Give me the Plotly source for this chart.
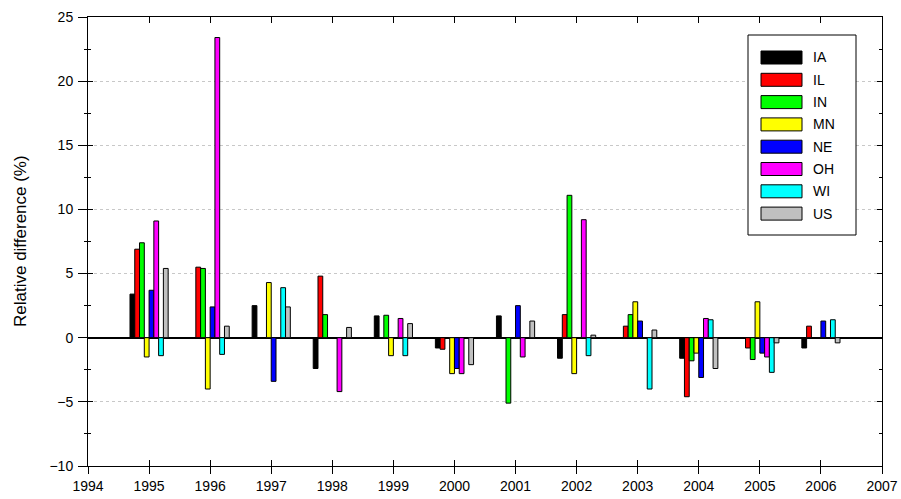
import plotly.graph_objects as go

years = [1995, 1996, 1997, 1998, 1999, 2000, 2001, 2002, 2003, 2004, 2005, 2006]
states = ["IA", "IL", "IN", "MN", "NE", "OH", "WI", "US"]
colors = ["#000000", "#ff0000", "#00ff00", "#ffff00", "#0000ff", "#ff00ff", "#00ffff", "#c0c0c0"]

IA = [3.4, 0.0, 2.5, -2.4, 1.7, -0.8, 1.7, -1.6, 0.0, -1.6, 0.0, -0.8]
IL = [6.9, 5.5, 0.0, 4.8, 0.0, -0.9, 0.0, 1.8, 0.9, -4.6, -0.8, 0.9]
IN = [7.4, 5.4, 0.0, 1.8, 1.75, 0.0, -5.1, 11.1, 1.8, -1.8, -1.7, 0.0]
MN = [-1.5, -4.0, 4.3, 0.0, -1.4, -2.8, 0.0, -2.8, 2.8, -1.2, 2.8, 0.0]
NE = [3.7, 2.4, -3.4, 0.0, 0.0, -2.4, 2.5, 0.0, 1.3, -3.1, -1.2, 1.3]
OH = [9.1, 23.4, 0.0, -4.2, 1.5, -2.8, -1.5, 9.2, 0.0, 1.5, -1.5, 0.0]
WI = [-1.4, -1.3, 3.9, 0.0, -1.4, 0.0, 0.0, -1.4, -4.0, 1.4, -2.7, 1.4]
US = [5.4, 0.9, 2.4, 0.8, 1.1, -2.1, 1.3, 0.2, 0.6, -2.4, -0.4, -0.4]
series = [IA, IL, IN, MN, NE, OH, WI, US]

x_ticks = list(range(1994, 2008))
y_range = [-10, 25]
y_title = "Relative difference (%)"

FONT = "Liberation Sans, Arial, sans-serif"

W, H = 901, 499
ML, MR, MT, MB = 88, 19, 17, 33

fig = go.Figure()
for name, vals, col in zip(states, series, colors):
    fig.add_trace(go.Bar(
        x=years, y=vals, name=name,
        marker=dict(color=col, line=dict(color="#000000", width=1)),
        showlegend=False,
    ))

# invisible helper trace so overlay axes (inner ticks) render
fig.add_trace(go.Scatter(x=[1994], y=[0], xaxis="x2", yaxis="y2", mode="markers",
                         marker=dict(opacity=0), showlegend=False, hoverinfo="skip"))

fig.update_layout(
    width=W, height=H,
    margin=dict(l=ML, r=MR, t=MT, b=MB),
    paper_bgcolor="white", plot_bgcolor="white",
    barmode="group", bargap=0.375, bargroupgap=0.0,
    font=dict(family=FONT, size=14, color="#000000"),
    xaxis=dict(
        range=[1994, 2007], tickmode="array", tickvals=x_ticks,
        ticktext=[str(v) for v in x_ticks],
        ticks="outside", ticklen=7, tickwidth=1, tickcolor="#000000",
        showline=True, linecolor="#000000", linewidth=1, mirror=True,
        showgrid=False, zeroline=False, automargin=False,
        tickfont=dict(family=FONT, size=14, color="#000000"),
    ),
    xaxis2=dict(
        range=[1994, 2007], overlaying="x", tickmode="array", tickvals=x_ticks,
        showticklabels=False, ticks="inside", ticklen=6, tickcolor="#000000",
        showline=False, mirror="ticks", showgrid=False, zeroline=False, automargin=False,
    ),
    yaxis=dict(
        range=y_range, dtick=5, tick0=0,
        ticks="outside", ticklen=9, tickwidth=1, tickcolor="#000000",
        minor=dict(dtick=2.5, ticks="outside", ticklen=3, tickcolor="#000000", showgrid=False),
        showline=True, linecolor="#000000", linewidth=1, mirror=True,
        showgrid=True, gridcolor="#c8c8c8", griddash="dot", gridwidth=1,
        zeroline=True, zerolinecolor="#000000", zerolinewidth=1.5,
        automargin=False, ticklabelstandoff=2,
        tickfont=dict(family=FONT, size=14, color="#000000"),
    ),
    yaxis2=dict(
        range=y_range, dtick=5, tick0=0, overlaying="y",
        showticklabels=False, ticks="inside", ticklen=5, tickcolor="#000000",
        minor=dict(dtick=2.5, ticks="inside", ticklen=3, tickcolor="#000000"),
        showline=False, mirror="ticks", showgrid=False, zeroline=False, automargin=False,
    ),
)

def px2paper_x(px):
    return (px - ML) / (W - ML - MR)

def px2paper_y(py):
    return (H - MB - py) / (H - MT - MB)

# y-axis title
fig.add_annotation(xref="paper", yref="paper", x=px2paper_x(20), y=px2paper_y(241),
                   text=y_title, textangle=-90, showarrow=False,
                   xanchor="center", yanchor="middle",
                   font=dict(family=FONT, size=17, color="#000000"))

# custom legend box with wide swatches
fig.add_shape(type="rect", xref="paper", yref="paper",
              x0=px2paper_x(748), x1=px2paper_x(856), y0=px2paper_y(235), y1=px2paper_y(35),
              line=dict(color="#000000", width=1), fillcolor="white", layer="above")
for i, (name, col) in enumerate(zip(states, colors)):
    cy = 57.5 + 22.3 * i
    fig.add_shape(type="rect", xref="paper", yref="paper",
                  x0=px2paper_x(761), x1=px2paper_x(802),
                  y0=px2paper_y(cy + 6.5), y1=px2paper_y(cy - 6.5),
                  line=dict(color="#000000", width=1), fillcolor=col, layer="above")
    fig.add_annotation(xref="paper", yref="paper", x=px2paper_x(811), y=px2paper_y(cy),
                       text=name, showarrow=False, xanchor="left", yanchor="middle",
                       font=dict(family=FONT, size=14, color="#000000"))

fig.write_html(
    "out.html",
    config={"displayModeBar": False},
    post_script="document.body.style.margin='0';document.body.style.padding='0';document.body.style.overflow='hidden';",
)
